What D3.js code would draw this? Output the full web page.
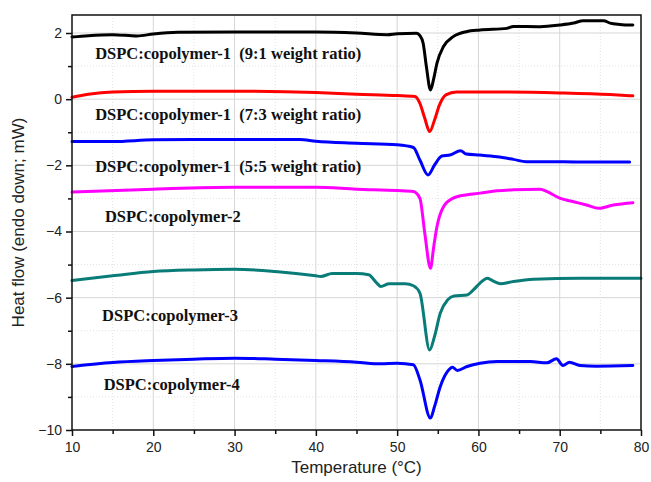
<!DOCTYPE html>
<html lang="en">
<head>
<meta charset="UTF-8">
<title>DSC thermograms</title>
<script src="https://d3js.org/d3.v7.min.js"></script>
<style>
  * { margin: 0; padding: 0; }
  body { background: #fff; width: 651px; height: 482px; overflow: hidden; }
  .tick text { font-family: "Liberation Sans", Arial, sans-serif; font-size: 14px; fill: #222; }
  .axis-title { font-family: "Liberation Sans", Arial, sans-serif; font-size: 17px; fill: #222; }
  .curve-label { font-family: "Liberation Serif", "Times New Roman", serif; font-weight: bold; font-size: 16.5px; fill: #111; }
</style>
</head>
<body>
<svg id="chart" width="651" height="482"></svg>
<script>
// temperatures and heat flow (°C, mW)
const t91 = [10, 12, 15, 18, 20, 23, 30, 40, 45, 48.8, 50, 52.4, 52.8, 53.2, 53.6, 54.1, 54.5, 54.9, 55.7, 56.9, 58.5, 60.2, 63.5, 64.3, 67.6, 70.0, 71.7, 72.9, 75.4, 76.2, 77.4, 79.0];
const v91 = [1.88, 1.92, 1.95, 1.91, 1.97, 2.02, 2.03, 2.03, 2.0, 1.95, 1.98, 1.99, 1.92, 1.69, 0.98, 0.28, 0.62, 1.09, 1.59, 1.89, 2.04, 2.09, 2.14, 2.2, 2.19, 2.24, 2.3, 2.37, 2.37, 2.3, 2.26, 2.24];

const t73 = [10, 12, 15, 20, 30, 40, 45, 50, 52.2, 52.8, 53.4, 54.0, 54.6, 55.2, 56.0, 57.3, 62.6, 70, 76.2, 79.0];
const v73 = [0.06, 0.15, 0.22, 0.24, 0.24, 0.2, 0.15, 0.11, 0.08, -0.13, -0.58, -0.98, -0.63, -0.18, 0.13, 0.22, 0.22, 0.19, 0.14, 0.1];

const t55 = [10, 15, 20, 25, 30, 38, 40, 45, 50, 52, 52.8, 53.8, 54.6, 55.5, 56.5, 57.8, 58.5, 60.2, 62.3, 64.3, 65.9, 68.4, 72.5, 78.6];
const v55 = [-1.28, -1.28, -1.23, -1.22, -1.22, -1.22, -1.27, -1.33, -1.38, -1.46, -1.84, -2.29, -1.99, -1.72, -1.69, -1.56, -1.66, -1.69, -1.74, -1.82, -1.89, -1.89, -1.9, -1.9];

const tC2 = [10, 20, 30, 40, 45, 50, 52, 52.8, 53.4, 54.1, 54.5, 54.9, 55.7, 56.9, 58.6, 60.2, 62.3, 64.3, 67.6, 68.4, 70.0, 71.7, 73.3, 74.8, 76.6, 79.0];
const vC2 = [-2.81, -2.72, -2.66, -2.66, -2.72, -2.76, -2.79, -3.0, -4.05, -5.11, -4.46, -3.85, -3.25, -2.99, -2.89, -2.84, -2.77, -2.74, -2.72, -2.79, -2.99, -3.1, -3.2, -3.3, -3.2, -3.13];

const tC3 = [10, 15, 20, 25, 30, 35, 40, 40.6, 42, 45, 46.5, 47.5, 48, 49, 51, 52, 52.8, 54.0, 54.6, 55.3, 56.2, 57.0, 58.6, 59.4, 60.2, 61.1, 61.9, 62.7, 64.3, 66.8, 72.5, 80];
const vC3 = [-5.48, -5.34, -5.21, -5.16, -5.14, -5.21, -5.34, -5.36, -5.27, -5.27, -5.31, -5.56, -5.66, -5.58, -5.58, -5.64, -5.86, -7.58, -7.17, -6.47, -6.07, -5.95, -5.92, -5.76, -5.56, -5.41, -5.51, -5.58, -5.51, -5.44, -5.41, -5.41];

const tC4 = [10, 15, 20, 25, 30, 35, 40, 45, 48, 50, 52, 52.8, 54.1, 54.6, 55.3, 56.2, 56.8, 57.4, 58.6, 60.2, 62.3, 66.4, 68.4, 69.6, 70.4, 71.2, 72.5, 74.5, 79.0];
const vC4 = [-8.08, -7.96, -7.9, -7.86, -7.83, -7.86, -7.9, -7.95, -8.0, -7.98, -8.03, -8.48, -9.64, -9.29, -8.69, -8.23, -8.1, -8.2, -8.08, -7.98, -7.93, -7.93, -7.97, -7.85, -8.05, -7.95, -8.05, -8.07, -8.05];

const seriesColors = ["#000000", "#ff0000", "#0000ff", "#ff00ff", "#0a7c78", "#0000ff"];
const labelTexts = [
  "DSPC:copolymer-1  (9:1 weight ratio)",
  "DSPC:copolymer-1  (7:3 weight ratio)",
  "DSPC:copolymer-1  (5:5 weight ratio)",
  "DSPC:copolymer-2",
  "DSPC:copolymer-3",
  "DSPC:copolymer-4"
];
// label anchor (baseline start) in data units (temperature, heat flow)
const labelT = [12.85, 12.85, 12.85, 14.05, 13.7, 13.9];
const labelV = [1.21, -0.62, -2.2, -3.7, -6.72, -8.79];

const xTicks = [10, 20, 30, 40, 50, 60, 70, 80];
const yTicks = [2, 0, -2, -4, -6, -8, -10];

const svg = d3.select("#chart");
const mLeft = 72, mRight = 641, mTop = 15, mBottom = 430;

const x = d3.scaleLinear().domain([10, 80]).range([mLeft, mRight]);
const y = d3.scaleLinear().domain([-10, 2]).range([mBottom, 33]);
const yMax = y.invert(mTop);

// grid: minor dotted first, then major solid
const minorX = d3.range(15, 80, 10);
const minorY = d3.range(-9, 2.6, 2);
svg.append("g").selectAll("line").data(minorX).enter().append("line")
  .attr("x1", d => x(d)).attr("x2", d => x(d)).attr("y1", mTop).attr("y2", mBottom)
  .attr("stroke", "#e2e2e2").attr("stroke-dasharray", "1,2");
svg.append("g").selectAll("line").data(minorY).enter().append("line")
  .attr("x1", mLeft).attr("x2", mRight).attr("y1", d => y(d)).attr("y2", d => y(d))
  .attr("stroke", "#e2e2e2").attr("stroke-dasharray", "1,2");
svg.append("g").selectAll("line").data(xTicks.slice(1, -1)).enter().append("line")
  .attr("x1", d => x(d)).attr("x2", d => x(d)).attr("y1", mTop).attr("y2", mBottom)
  .attr("stroke", "#d6d6d6").attr("stroke-width", 1);
svg.append("g").selectAll("line").data(yTicks.slice(0, -1)).enter().append("line")
  .attr("x1", mLeft).attr("x2", mRight).attr("y1", d => y(d)).attr("y2", d => y(d))
  .attr("stroke", "#d6d6d6").attr("stroke-width", 1);

// curves
const allT = [t91, t73, t55, tC2, tC3, tC4];
const allV = [v91, v73, v55, vC2, vC3, vC4];
const line = d3.line().x(d => x(d[0])).y(d => y(d[1])).curve(d3.curveMonotoneX);
allT.forEach((ts, i) => {
  const pts = ts.map((t, j) => [t, allV[i][j]]);
  svg.append("path")
    .datum(pts)
    .attr("d", line)
    .attr("fill", "none")
    .attr("stroke", seriesColors[i])
    .attr("stroke-width", 3)
    .attr("stroke-linejoin", "round")
    .attr("stroke-linecap", "round");
});

// frame
svg.append("rect")
  .attr("x", mLeft).attr("y", mTop).attr("width", mRight - mLeft).attr("height", mBottom - mTop)
  .attr("fill", "none").attr("stroke", "#111").attr("stroke-width", 1.5);

// axes
const xAxis = d3.axisBottom(x).tickValues(xTicks).tickSize(6).tickPadding(6).tickFormat(d3.format("d"));
const xMinor = d3.axisBottom(x).tickValues(minorX).tickSize(4).tickFormat("");
const gx = svg.append("g").attr("transform", `translate(0,${mBottom})`).call(xAxis);
const gxm = svg.append("g").attr("transform", `translate(0,${mBottom})`).call(xMinor);
const yAxis = d3.axisLeft(y).tickValues(yTicks).tickSize(6).tickPadding(4).tickFormat(d3.format("d"));
const yMinor = d3.axisLeft(y).tickValues(minorY.filter(d => d < yMax)).tickSize(4).tickFormat("");
const gy = svg.append("g").attr("transform", `translate(${mLeft},0)`).call(yAxis);
const gym = svg.append("g").attr("transform", `translate(${mLeft},0)`).call(yMinor);
[gx, gxm, gy, gym].forEach(g => {
  g.select(".domain").remove();
  g.selectAll(".tick line").attr("stroke", "#111").attr("stroke-width", 1.5);
});

// axis titles
svg.append("text").attr("class", "axis-title")
  .attr("x", (mLeft + mRight) / 2).attr("y", 473)
  .attr("text-anchor", "middle").text("Temperature (°C)");
svg.append("text").attr("class", "axis-title")
  .attr("transform", `translate(24,${(mTop + mBottom) / 2}) rotate(-90)`)
  .attr("text-anchor", "middle").text("Heat flow (endo down; mW)");

// curve labels
svg.append("g").selectAll("text").data(labelTexts).enter().append("text")
  .attr("class", "curve-label")
  .attr("xml:space", "preserve")
  .style("white-space", "pre")
  .attr("x", (d, i) => x(labelT[i]))
  .attr("y", (d, i) => y(labelV[i]))
  .text(d => d);
</script>
</body>
</html>
